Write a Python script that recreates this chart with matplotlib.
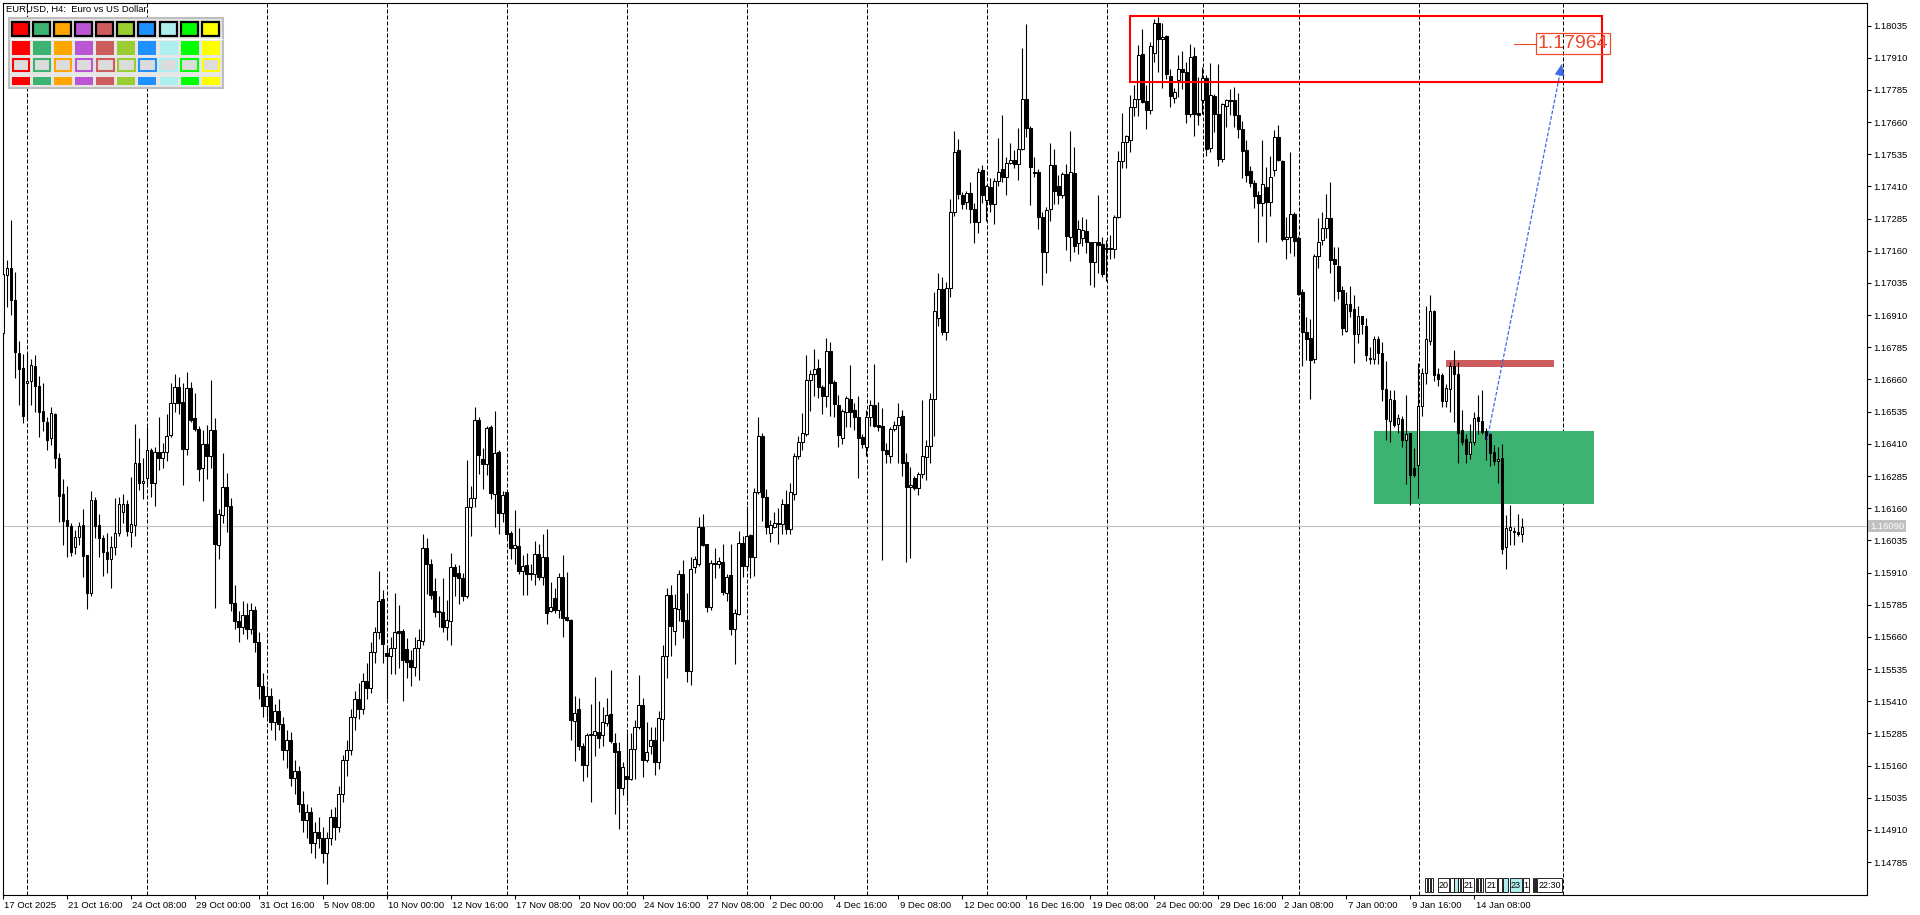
import matplotlib
matplotlib.use("Agg")
import matplotlib.pyplot as plt
from matplotlib.patches import Rectangle
import matplotlib.transforms as mtransforms
import numpy as np

plt.rcParams['font.family'] = ['Liberation Sans', 'DejaVu Sans']

# ---------------- data: EURUSD H4 candles (bar index 0 = 17 Oct 2025 00:00) ----------------
opens = [
 1.16840, 1.17066, 1.17092, 1.16969, 1.16762, 1.16704, 1.16645, 1.16656, 1.16713, 1.16635,
 1.16538, 1.16493, 1.16434, 1.16526, 1.16354, 1.16216, 1.16115, 1.16089, 1.16008, 1.16047,
 1.16095, 1.15979, 1.15832, 1.16192, 1.16095, 1.16043, 1.15991, 1.15962, 1.16008, 1.16063,
 1.16147, 1.16175, 1.16069, 1.16095, 1.16337, 1.16257, 1.16276, 1.16386, 1.16257, 1.16377,
 1.16354, 1.16380, 1.16445, 1.16568, 1.16630, 1.16572, 1.16389, 1.16626, 1.16510, 1.16467,
 1.16315, 1.16408, 1.16364, 1.16464, 1.16017, 1.16134, 1.16244, 1.16169, 1.15793, 1.15720,
 1.15700, 1.15745, 1.15690, 1.15765, 1.15640, 1.15470, 1.15390, 1.15430, 1.15330, 1.15370,
 1.15320, 1.15220, 1.15260, 1.15110, 1.15140, 1.15010, 1.14950, 1.14980, 1.14860, 1.14900,
 1.14880, 1.14820, 1.14880, 1.14960, 1.14920, 1.15050, 1.15180, 1.15220, 1.15350, 1.15420,
 1.15380, 1.15490, 1.15460, 1.15600, 1.15680, 1.15808, 1.15597, 1.15584, 1.15618, 1.15682,
 1.15682, 1.15611, 1.15569, 1.15544, 1.15615, 1.15644, 1.16005, 1.15944, 1.15837, 1.15761,
 1.15758, 1.15698, 1.15722, 1.15932, 1.15908, 1.15890, 1.15818, 1.16165, 1.16201, 1.16504,
 1.16351, 1.16333, 1.16475, 1.16215, 1.16380, 1.16141, 1.16222, 1.16062, 1.16005, 1.16012,
 1.15915, 1.15941, 1.15907, 1.15904, 1.15982, 1.15894, 1.15972, 1.15762, 1.15811, 1.15765,
 1.15894, 1.15737, 1.15727, 1.15334, 1.15379, 1.15237, 1.15162, 1.15277, 1.15277, 1.15291,
 1.15279, 1.15327, 1.15361, 1.15247, 1.15215, 1.15072, 1.15118, 1.15108, 1.15225, 1.15308,
 1.15394, 1.15182, 1.15237, 1.15261, 1.15172, 1.15341, 1.15584, 1.15822, 1.15684, 1.15769,
 1.15905, 1.15727, 1.15529, 1.15932, 1.15944, 1.16087, 1.16020, 1.15775, 1.15948, 1.15944,
 1.15951, 1.15831, 1.15901, 1.15691, 1.15748, 1.16025, 1.15937, 1.16054, 1.15972, 1.16222,
 1.16441, 1.16205, 1.16065, 1.16087, 1.16101, 1.16098, 1.16175, 1.16080, 1.16214, 1.16364,
 1.16419, 1.16448, 1.16658, 1.16680, 1.16704, 1.16630, 1.16594, 1.16771, 1.16649, 1.16561,
 1.16434, 1.16535, 1.16584, 1.16542, 1.16513, 1.16438, 1.16399, 1.16513, 1.16559, 1.16484,
 1.16480, 1.16386, 1.16363, 1.16467, 1.16484, 1.16519, 1.16338, 1.16241, 1.16276, 1.16237,
 1.16292, 1.16360, 1.16402, 1.16585, 1.16898, 1.17011, 1.16846, 1.17017, 1.17310, 1.17552,
 1.17377, 1.17348, 1.17384, 1.17321, 1.17273, 1.17474, 1.17358, 1.17407, 1.17341, 1.17433,
 1.17477, 1.17448, 1.17503, 1.17513, 1.17496, 1.17555, 1.17749, 1.17636, 1.17468, 1.17465,
 1.17293, 1.17157, 1.17321, 1.17494, 1.17410, 1.17377, 1.17459, 1.17215, 1.17461, 1.17189,
 1.17209, 1.17237, 1.17193, 1.17118, 1.17196, 1.17186, 1.17170, 1.17170, 1.17166, 1.17293,
 1.17507, 1.17582, 1.17591, 1.17720, 1.17749, 1.17924, 1.17744, 1.17707, 1.17930, 1.18044,
 1.17982, 1.17995, 1.17841, 1.17755, 1.17825, 1.17866, 1.17854, 1.17693, 1.17916, 1.17696,
 1.17746, 1.17832, 1.17560, 1.17762, 1.17693, 1.17517, 1.17723, 1.17746, 1.17746, 1.17686,
 1.17635, 1.17552, 1.17470, 1.17424, 1.17376, 1.17344, 1.17409, 1.17350, 1.17474, 1.17602,
 1.17510, 1.17206, 1.17214, 1.17304, 1.17210, 1.16999, 1.16846, 1.16822, 1.16738, 1.17138,
 1.17203, 1.17249, 1.17287, 1.17127, 1.17102, 1.17006, 1.16850, 1.16954, 1.16933, 1.16836,
 1.16905, 1.16868, 1.16745, 1.16739, 1.16817, 1.16764, 1.16624, 1.16500, 1.16580, 1.16486,
 1.16508, 1.16423, 1.16451, 1.16318, 1.16328, 1.16558, 1.16685, 1.16810, 1.16927, 1.16681,
 1.16678, 1.16577, 1.16624, 1.16714, 1.16682, 1.16462, 1.16429, 1.16372, 1.16418, 1.16515,
 1.16500, 1.16461, 1.16447, 1.16379, 1.16342, 1.16356, 1.16011, 1.16077, 1.16073, 1.16066, 1.16059]

highs = [
 1.17073, 1.17125, 1.17280, 1.17079, 1.16810, 1.16759, 1.16762, 1.16740, 1.16756, 1.16675,
 1.16646, 1.16516, 1.16555, 1.16529, 1.16374, 1.16272, 1.16247, 1.16102, 1.16076, 1.16108,
 1.16157, 1.15979, 1.16225, 1.16203, 1.16137, 1.16056, 1.16063, 1.16052, 1.16199, 1.16203,
 1.16216, 1.16192, 1.16283, 1.16487, 1.16432, 1.16354, 1.16475, 1.16393, 1.16397, 1.16516,
 1.16412, 1.16526, 1.16648, 1.16682, 1.16668, 1.16646, 1.16688, 1.16652, 1.16609, 1.16480,
 1.16464, 1.16484, 1.16658, 1.16510, 1.16157, 1.16376, 1.16296, 1.16199, 1.15862, 1.15760,
 1.15800, 1.15790, 1.15790, 1.15780, 1.15680, 1.15520, 1.15470, 1.15460, 1.15400, 1.15420,
 1.15350, 1.15300, 1.15290, 1.15180, 1.15160, 1.15060, 1.15010, 1.15000, 1.14940, 1.14960,
 1.14920, 1.14900, 1.14990, 1.15000, 1.15080, 1.15200, 1.15260, 1.15380, 1.15450, 1.15480,
 1.15520, 1.15560, 1.15640, 1.15700, 1.15914, 1.15841, 1.15629, 1.15658, 1.15832, 1.15784,
 1.15690, 1.15655, 1.15608, 1.15658, 1.15690, 1.16061, 1.16044, 1.15961, 1.15887, 1.15818,
 1.15887, 1.15805, 1.15984, 1.15944, 1.15941, 1.15908, 1.16347, 1.16247, 1.16555, 1.16513,
 1.16394, 1.16480, 1.16484, 1.16537, 1.16387, 1.16227, 1.16227, 1.16070, 1.16151, 1.16084,
 1.15980, 1.15984, 1.15944, 1.16032, 1.16022, 1.16061, 1.16080, 1.15875, 1.15851, 1.15908,
 1.15977, 1.15912, 1.15730, 1.15429, 1.15422, 1.15247, 1.15287, 1.15401, 1.15504, 1.15412,
 1.15387, 1.15422, 1.15532, 1.15287, 1.15251, 1.15172, 1.15287, 1.15287, 1.15337, 1.15512,
 1.15422, 1.15329, 1.15308, 1.15308, 1.15372, 1.15629, 1.15848, 1.15861, 1.15827, 1.15920,
 1.15958, 1.15832, 1.15972, 1.15975, 1.16127, 1.16137, 1.16022, 1.15958, 1.16004, 1.15970,
 1.16022, 1.15904, 1.16022, 1.15768, 1.16072, 1.16051, 1.16168, 1.16061, 1.16237, 1.16515,
 1.16451, 1.16233, 1.16115, 1.16144, 1.16161, 1.16195, 1.16231, 1.16259, 1.16376, 1.16441,
 1.16529, 1.16755, 1.16697, 1.16777, 1.16739, 1.16639, 1.16820, 1.16807, 1.16658, 1.16600,
 1.16546, 1.16597, 1.16717, 1.16568, 1.16594, 1.16447, 1.16542, 1.16581, 1.16721, 1.16574,
 1.16548, 1.16415, 1.16477, 1.16500, 1.16568, 1.16542, 1.16373, 1.16319, 1.16285, 1.16302,
 1.16581, 1.16425, 1.16607, 1.16998, 1.17073, 1.17060, 1.17037, 1.17360, 1.17626, 1.17593,
 1.17390, 1.17393, 1.17429, 1.17345, 1.17481, 1.17494, 1.17416, 1.17442, 1.17442, 1.17597,
 1.17688, 1.17526, 1.17578, 1.17552, 1.17636, 1.17947, 1.18042, 1.17643, 1.17524, 1.17477,
 1.17312, 1.17332, 1.17578, 1.17555, 1.17455, 1.17468, 1.17498, 1.17627, 1.17562, 1.17280,
 1.17290, 1.17283, 1.17196, 1.17196, 1.17377, 1.17215, 1.17202, 1.17222, 1.17299, 1.17546,
 1.17697, 1.17610, 1.17766, 1.17805, 1.17960, 1.18021, 1.17805, 1.17973, 1.18060, 1.18068,
 1.18044, 1.17999, 1.17868, 1.17794, 1.17920, 1.17938, 1.17894, 1.17964, 1.17952, 1.17837,
 1.17873, 1.17844, 1.17890, 1.17768, 1.17884, 1.17736, 1.17750, 1.17789, 1.17796, 1.17772,
 1.17664, 1.17592, 1.17491, 1.17434, 1.17393, 1.17592, 1.17484, 1.17530, 1.17628, 1.17647,
 1.17513, 1.17290, 1.17542, 1.17311, 1.17218, 1.17013, 1.16904, 1.16894, 1.17146, 1.17287,
 1.17311, 1.17380, 1.17426, 1.17174, 1.17174, 1.17023, 1.16999, 1.17023, 1.16990, 1.16944,
 1.16908, 1.16898, 1.16786, 1.16829, 1.16829, 1.16804, 1.16732, 1.16620, 1.16620, 1.16526,
 1.16519, 1.16601, 1.16454, 1.16394, 1.16725, 1.16706, 1.16947, 1.16987, 1.16930, 1.16706,
 1.16685, 1.16644, 1.16728, 1.16774, 1.16728, 1.16541, 1.16447, 1.16486, 1.16534, 1.16598,
 1.16620, 1.16472, 1.16454, 1.16404, 1.16397, 1.16408, 1.16135, 1.16174, 1.16087, 1.16138, 1.16120]

lows = [
 1.16830, 1.16943, 1.16911, 1.16665, 1.16561, 1.16490, 1.16503, 1.16559, 1.16535, 1.16438,
 1.16458, 1.16386, 1.16406, 1.16315, 1.16108, 1.16015, 1.15972, 1.15976, 1.15982, 1.16015,
 1.15894, 1.15767, 1.15819, 1.16043, 1.15972, 1.15898, 1.15907, 1.15849, 1.15978, 1.16052,
 1.16102, 1.16050, 1.16008, 1.16050, 1.16231, 1.16195, 1.16254, 1.16203, 1.16170, 1.16309,
 1.16318, 1.16345, 1.16438, 1.16532, 1.16526, 1.16250, 1.16367, 1.16494, 1.16458, 1.16267,
 1.16186, 1.16272, 1.16315, 1.15771, 1.15962, 1.16102, 1.16069, 1.15760, 1.15690, 1.15640,
 1.15670, 1.15650, 1.15670, 1.15600, 1.15420, 1.15350, 1.15350, 1.15300, 1.15260, 1.15300,
 1.15180, 1.15150, 1.15080, 1.15050, 1.14980, 1.14900, 1.14880, 1.14820, 1.14800, 1.14840,
 1.14780, 1.14700, 1.14850, 1.14870, 1.14900, 1.15020, 1.15120, 1.15200, 1.15300, 1.15340,
 1.15360, 1.15420, 1.15440, 1.15560, 1.15650, 1.15558, 1.15418, 1.15515, 1.15515, 1.15539,
 1.15411, 1.15501, 1.15468, 1.15508, 1.15494, 1.15627, 1.15827, 1.15808, 1.15737, 1.15698,
 1.15679, 1.15647, 1.15629, 1.15818, 1.15787, 1.15798, 1.15812, 1.16051, 1.16165, 1.16294,
 1.16233, 1.16290, 1.16194, 1.16087, 1.16058, 1.16108, 1.16044, 1.15961, 1.15944, 1.15904,
 1.15822, 1.15822, 1.15880, 1.15861, 1.15880, 1.15861, 1.15711, 1.15758, 1.15751, 1.15732,
 1.15658, 1.15722, 1.15261, 1.15179, 1.15222, 1.15101, 1.15115, 1.15018, 1.15196, 1.15229,
 1.15237, 1.15315, 1.15247, 1.14972, 1.14915, 1.15044, 1.15022, 1.15104, 1.15108, 1.15301,
 1.15115, 1.15175, 1.15204, 1.15122, 1.15146, 1.15254, 1.15501, 1.15584, 1.15629, 1.15722,
 1.15655, 1.15484, 1.15472, 1.15908, 1.15937, 1.16012, 1.15758, 1.15765, 1.15890, 1.15927,
 1.15822, 1.15801, 1.15669, 1.15555, 1.15744, 1.15894, 1.15922, 1.15887, 1.15898, 1.16215,
 1.16112, 1.16061, 1.16030, 1.16084, 1.16022, 1.16060, 1.16060, 1.16060, 1.16192, 1.16350,
 1.16386, 1.16441, 1.16538, 1.16594, 1.16587, 1.16526, 1.16555, 1.16518, 1.16516, 1.16399,
 1.16410, 1.16477, 1.16477, 1.16464, 1.16276, 1.16393, 1.16363, 1.16480, 1.16477, 1.16458,
 1.15960, 1.16337, 1.16337, 1.16458, 1.16334, 1.16285, 1.15949, 1.15966, 1.16231, 1.16211,
 1.16276, 1.16270, 1.16334, 1.16441, 1.16866, 1.16833, 1.16814, 1.16982, 1.17296, 1.17360,
 1.17321, 1.17323, 1.17267, 1.17189, 1.17231, 1.17345, 1.17277, 1.17312, 1.17263, 1.17410,
 1.17429, 1.17375, 1.17496, 1.17481, 1.17435, 1.17552, 1.17604, 1.17338, 1.17448, 1.17244,
 1.17026, 1.17073, 1.17274, 1.17341, 1.17341, 1.17364, 1.17163, 1.17122, 1.17157, 1.17148,
 1.17179, 1.17151, 1.17027, 1.17021, 1.17073, 1.17060, 1.17044, 1.17127, 1.17131, 1.17287,
 1.17481, 1.17483, 1.17542, 1.17682, 1.17682, 1.17736, 1.17632, 1.17692, 1.17895, 1.17856,
 1.17792, 1.17827, 1.17719, 1.17736, 1.17758, 1.17789, 1.17657, 1.17681, 1.17606, 1.17647,
 1.17690, 1.17527, 1.17542, 1.17621, 1.17491, 1.17506, 1.17642, 1.17686, 1.17642, 1.17599,
 1.17444, 1.17426, 1.17408, 1.17326, 1.17193, 1.17297, 1.17196, 1.17297, 1.17451, 1.17508,
 1.17200, 1.17128, 1.17153, 1.17138, 1.16990, 1.16714, 1.16735, 1.16584, 1.16724, 1.17095,
 1.17182, 1.17210, 1.17074, 1.16966, 1.16973, 1.16832, 1.16843, 1.16901, 1.16724, 1.16803,
 1.16836, 1.16731, 1.16721, 1.16721, 1.16721, 1.16577, 1.16426, 1.16418, 1.16476, 1.16454,
 1.16397, 1.16253, 1.16171, 1.16282, 1.16198, 1.16519, 1.16642, 1.16793, 1.16656, 1.16634,
 1.16555, 1.16552, 1.16534, 1.16495, 1.16336, 1.16404, 1.16336, 1.16351, 1.16404, 1.16447,
 1.16447, 1.16346, 1.16325, 1.16328, 1.16256, 1.15982, 1.15922, 1.16015, 1.16015, 1.16051, 1.16030]

closes = [
 1.17070, 1.17092, 1.16969, 1.16765, 1.16701, 1.16520, 1.16656, 1.16717, 1.16633, 1.16533,
 1.16497, 1.16423, 1.16529, 1.16354, 1.16209, 1.16112, 1.16089, 1.15991, 1.16047, 1.16091,
 1.15976, 1.15832, 1.16192, 1.16092, 1.16043, 1.15989, 1.15962, 1.16008, 1.16063, 1.16175,
 1.16175, 1.16073, 1.16098, 1.16337, 1.16257, 1.16266, 1.16386, 1.16257, 1.16377, 1.16354,
 1.16380, 1.16442, 1.16568, 1.16630, 1.16568, 1.16389, 1.16626, 1.16503, 1.16467, 1.16311,
 1.16408, 1.16364, 1.16464, 1.16020, 1.16138, 1.16244, 1.16169, 1.15793, 1.15720, 1.15700,
 1.15745, 1.15690, 1.15765, 1.15640, 1.15470, 1.15390, 1.15430, 1.15330, 1.15370, 1.15320,
 1.15220, 1.15260, 1.15110, 1.15140, 1.15010, 1.14950, 1.14980, 1.14860, 1.14900, 1.14880,
 1.14820, 1.14880, 1.14960, 1.14920, 1.15050, 1.15180, 1.15220, 1.15350, 1.15420, 1.15380,
 1.15490, 1.15460, 1.15600, 1.15680, 1.15801, 1.15632, 1.15584, 1.15618, 1.15679, 1.15675,
 1.15572, 1.15561, 1.15544, 1.15615, 1.15649, 1.16005, 1.15944, 1.15822, 1.15758, 1.15755,
 1.15698, 1.15727, 1.15932, 1.15898, 1.15890, 1.15818, 1.16165, 1.16198, 1.16504, 1.16365,
 1.16333, 1.16470, 1.16218, 1.16375, 1.16141, 1.16211, 1.16058, 1.16005, 1.16018, 1.15915,
 1.15937, 1.15904, 1.15904, 1.15982, 1.15894, 1.15972, 1.15754, 1.15777, 1.15765, 1.15894,
 1.15732, 1.15727, 1.15337, 1.15365, 1.15234, 1.15162, 1.15279, 1.15284, 1.15294, 1.15268,
 1.15329, 1.15358, 1.15254, 1.15212, 1.15072, 1.15155, 1.15108, 1.15225, 1.15308, 1.15394,
 1.15182, 1.15212, 1.15258, 1.15172, 1.15344, 1.15584, 1.15822, 1.15704, 1.15772, 1.15905,
 1.15722, 1.15529, 1.15922, 1.15961, 1.16087, 1.16015, 1.15775, 1.15947, 1.15944, 1.15955,
 1.15834, 1.15891, 1.15691, 1.15751, 1.16025, 1.15937, 1.16051, 1.15972, 1.16222, 1.16441,
 1.16205, 1.16087, 1.16094, 1.16101, 1.16098, 1.16175, 1.16080, 1.16224, 1.16364, 1.16419,
 1.16451, 1.16658, 1.16680, 1.16700, 1.16629, 1.16594, 1.16771, 1.16648, 1.16564, 1.16445,
 1.16538, 1.16587, 1.16535, 1.16513, 1.16434, 1.16408, 1.16513, 1.16559, 1.16480, 1.16477,
 1.16386, 1.16370, 1.16467, 1.16484, 1.16516, 1.16337, 1.16241, 1.16250, 1.16237, 1.16292,
 1.16364, 1.16402, 1.16585, 1.16926, 1.17011, 1.16846, 1.17017, 1.17310, 1.17542, 1.17380,
 1.17341, 1.17386, 1.17323, 1.17271, 1.17468, 1.17377, 1.17410, 1.17341, 1.17433, 1.17468,
 1.17448, 1.17500, 1.17513, 1.17496, 1.17555, 1.17749, 1.17636, 1.17485, 1.17464, 1.17290,
 1.17157, 1.17319, 1.17494, 1.17393, 1.17377, 1.17459, 1.17219, 1.17468, 1.17180, 1.17245,
 1.17241, 1.17193, 1.17116, 1.17193, 1.17183, 1.17069, 1.17166, 1.17166, 1.17293, 1.17507,
 1.17582, 1.17606, 1.17720, 1.17749, 1.17921, 1.17740, 1.17707, 1.17956, 1.18044, 1.17982,
 1.17990, 1.17846, 1.17761, 1.17776, 1.17866, 1.17854, 1.17693, 1.17912, 1.17693, 1.17686,
 1.17832, 1.17556, 1.17765, 1.17693, 1.17517, 1.17729, 1.17746, 1.17743, 1.17686, 1.17632,
 1.17549, 1.17455, 1.17424, 1.17373, 1.17344, 1.17419, 1.17350, 1.17445, 1.17602, 1.17513,
 1.17206, 1.17214, 1.17304, 1.17200, 1.16994, 1.16843, 1.16817, 1.16735, 1.17141, 1.17196,
 1.17249, 1.17287, 1.17124, 1.17107, 1.17002, 1.16862, 1.16954, 1.16927, 1.16836, 1.16908,
 1.16875, 1.16754, 1.16738, 1.16817, 1.16764, 1.16624, 1.16505, 1.16584, 1.16483, 1.16512,
 1.16423, 1.16447, 1.16289, 1.16289, 1.16558, 1.16685, 1.16817, 1.16927, 1.16678, 1.16660,
 1.16577, 1.16627, 1.16714, 1.16682, 1.16454, 1.16418, 1.16372, 1.16418, 1.16512, 1.16498,
 1.16457, 1.16428, 1.16375, 1.16342, 1.16351, 1.16003, 1.16083, 1.16087, 1.16066, 1.16059, 1.16087]

# x-axis time labels (every 16 H4 bars)
time_labels = ["17 Oct 2025", "21 Oct 16:00", "24 Oct 08:00", "29 Oct 00:00", "31 Oct 16:00",
               "5 Nov 08:00", "10 Nov 00:00", "12 Nov 16:00", "17 Nov 08:00", "20 Nov 00:00",
               "24 Nov 16:00", "27 Nov 08:00", "2 Dec 00:00", "4 Dec 16:00", "9 Dec 08:00",
               "12 Dec 00:00", "16 Dec 16:00", "19 Dec 08:00", "24 Dec 00:00", "29 Dec 16:00",
               "2 Jan 08:00", "7 Jan 00:00", "9 Jan 16:00", "14 Jan 08:00"]
label_bars = [0, 16, 32, 48, 64, 80, 96, 112, 128, 144, 160, 176, 192, 208, 224, 240,
              256, 272, 288, 304, 320, 336, 352, 368]

# price scale ticks
price_ticks = [1.14785, 1.14910, 1.15035, 1.15160, 1.15285, 1.15410, 1.15535, 1.15660,
               1.15785, 1.15910, 1.16035, 1.16160, 1.16285, 1.16410, 1.16535, 1.16660,
               1.16785, 1.16910, 1.17035, 1.17160, 1.17285, 1.17410, 1.17535, 1.17660,
               1.17785, 1.17910, 1.18035]

# weekly separators (bar index)
week_bars = [6, 36, 66, 96, 126, 156, 186, 216, 246, 276, 300, 324, 354, 390]

bid_price = 1.16090
target_price = 1.17964

# drawn objects (bar index / price)
red_box = (281.9, 400.0, 1.17817, 1.18074)
green_zone = (342.9, 397.9, 1.16177, 1.16460)
red_level = (361.0, 388.0, 1.16710, 1.16736)
arrow_start = (371.2, 1.16426)
arrow_end = (389.9, 1.17886)

panel_colors = ['#FF0000', '#3CB371', '#FFA500', '#BA55D3', '#CD5C5C',
                '#9ACD32', '#1E90FF', '#AFEEEE', '#00FF00', '#FFFF00']

# event markers on the time axis: (bar, width in bars, text, face)
events = [(355.7, 0.45, "", "white"), (356.4, 0.45, "", "white"), (357.1, 0.45, "", "white"),
          (358.9, 2.75, "20", "white"), (361.9, 0.9, "", "white"), (362.9, 0.9, "", "#AFEEEE"),
          (364.0, 0.45, "", "white"), (364.6, 0.45, "", "white"),
          (365.2, 2.75, "21", "white"), (368.3, 0.45, "", "white"), (369.0, 0.45, "", "white"),
          (369.7, 0.45, "", "white"), (370.7, 3.0, "21", "white"), (374.0, 0.9, "", "white"),
          (375.2, 1.3, "", "#AFEEEE"), (376.9, 3.0, "23", "#AFEEEE"), (380.1, 1.7, "1", "white"),
          (382.6, 0.35, "", "white"), (383.1, 0.35, "", "white"), (383.7, 6.3, "22:30", "white")]

# ---------------- figure ----------------
W, H = 1920, 915
fig = plt.figure(figsize=(W / 100, H / 100), dpi=100)
fig.patch.set_facecolor('white')
L_px, R_px, T_px, B_px = 2.7, 1867.0, 2.7, 895.0
ax = fig.add_axes([L_px / W, 1 - B_px / H, (R_px - L_px) / W, (B_px - T_px) / H])
ax.set_xlim(0.1, 466.2)
ax.set_ylim(1.14657, 1.18124)
ax.set_facecolor('white')

o = np.array(opens); h = np.array(highs); l = np.array(lows); c = np.array(closes)
h = np.maximum(h, np.maximum(o, c)); l = np.minimum(l, np.minimum(o, c))
x = np.arange(len(o))

# grid separators
for wb in week_bars:
    ax.axvline(wb + 0.15, color='black', lw=0.72, linestyle=(0, (4, 2)), zorder=1)

# bid line
ax.axhline(bid_price, color='#C0C0C0', lw=0.8, zorder=1.2)

# zones
ax.add_patch(Rectangle((green_zone[0], green_zone[2]), green_zone[1] - green_zone[0],
                       green_zone[3] - green_zone[2], facecolor='#3CB371', edgecolor='none', zorder=1.5))
ax.add_patch(Rectangle((red_level[0], red_level[2]), red_level[1] - red_level[0],
                       red_level[3] - red_level[2], facecolor='#CD5C5C', edgecolor='none', zorder=1.5))
ax.add_patch(Rectangle((red_box[0], red_box[2]), red_box[1] - red_box[0],
                       red_box[3] - red_box[2], facecolor='none', edgecolor='#FF0000', lw=1.5, zorder=4))

# candles
ax.vlines(x, l, h, color='black', lw=0.8, zorder=2.9)
bull = c >= o
body_h = c - o
body_h = np.where(np.abs(body_h) < 1e-6, 1e-6, body_h)
ax.bar(x, body_h, bottom=o, width=0.58, color=np.where(bull, 'white', 'black'),
       edgecolor='black', linewidth=0.75, zorder=3)

# arrow to target
ax.plot([arrow_start[0], arrow_end[0]], [arrow_start[1], arrow_end[1]], color='#4169E1',
        lw=0.9, linestyle=(0, (3, 1.5)), zorder=5)
ax.annotate('', xy=arrow_end,
            xytext=(arrow_end[0] - (arrow_end[0] - arrow_start[0]) * 0.03,
                    arrow_end[1] - (arrow_end[1] - arrow_start[1]) * 0.03),
            arrowprops=dict(arrowstyle='-|>,head_length=0.7,head_width=0.3', color='#4169E1',
                            lw=0.8, shrinkA=0, shrinkB=0, mutation_scale=10), zorder=5)

# target price label
tcol = '#EC4A2A'
ax.plot([377.9, 383.4], [target_price, target_price], color=tcol, lw=0.8, zorder=5)
ax.text(383.9, target_price, '1.17964', fontsize=14, color=tcol, va='center', ha='left', zorder=5,
        bbox=dict(boxstyle='square,pad=0.1', fc='none', ec=tcol, lw=0.9))

# axes styling
for sp in ax.spines.values():
    sp.set_color('black'); sp.set_linewidth(0.8)
ax.yaxis.tick_right()
ax.set_yticks(price_ticks)
ax.set_yticklabels([f"{p:.5f}" for p in price_ticks])
ax.tick_params(axis='y', direction='out', length=3, width=0.75, pad=1.5, labelsize=6.8,
               colors='black', left=False, right=True)
ax.set_xticks(label_bars)
ax.set_xticklabels(time_labels)
ax.tick_params(axis='x', direction='out', length=3, width=0.75, pad=1.5, labelsize=6.8, colors='black')
off = mtransforms.ScaledTranslation(1.5 / 100, 0, fig.dpi_scale_trans)
for lbl in ax.get_xticklabels():
    lbl.set_horizontalalignment('left')
    lbl.set_transform(lbl.get_transform() + off)

# bid price tag on the axis
tr = mtransforms.blended_transform_factory(ax.transAxes, ax.transData)
ax.text(1.0015, bid_price, '1.16090', transform=tr, fontsize=6.8, color='white', va='center',
        ha='left', zorder=6, clip_on=False,
        bbox=dict(boxstyle='square,pad=0.18', fc='#C0C0C0', ec='none'))

# event markers at the bottom
trx = mtransforms.blended_transform_factory(ax.transData, ax.transAxes)
for bx, bw, txt, fc in events:
    ax.add_patch(Rectangle((bx, 0.003), bw, 0.0155, transform=trx, facecolor=fc,
                           edgecolor='black', lw=0.6, zorder=6, clip_on=False))
    if txt:
        ax.text(bx + bw / 2, 0.0105, txt, transform=trx, fontsize=6.5, ha='center', va='center',
                color='black', zorder=7)

# ---------------- overlay: header + colour panel ----------------
ov = fig.add_axes([0, 0, 1, 1], facecolor='none')
ov.set_xlim(0, W); ov.set_ylim(H, 0); ov.axis('off')
ov.text(6, 9.5, 'EURUSD, H4:  Euro vs US Dollar', fontsize=6.8, va='center', ha='left', color='black')
ov.add_patch(Rectangle((8.5, 17.5), 214, 70, facecolor='#E6E6E6', edgecolor='#BEBEBE', lw=1.5))
ov.plot([9.5, 222], [38.5, 38.5], color='white', lw=1)
for k, col in enumerate(panel_colors):
    x0 = 11.8 + k * 21.1
    ov.add_patch(Rectangle((x0 + 1, 22.5), 17, 14, facecolor='#808080', edgecolor='none'))
    ov.add_patch(Rectangle((x0, 21.5), 17, 14, facecolor=col, edgecolor='black', lw=1.6))
    ov.add_patch(Rectangle((x0, 40.8), 18, 14.2, facecolor=col, edgecolor='none'))
    ov.add_patch(Rectangle((x0 + 0.8, 58.5), 16.5, 12.5, facecolor='#DCDCDC', edgecolor=col, lw=1.5))
    ov.add_patch(Rectangle((x0, 76.8), 18, 8.2, facecolor=col, edgecolor='none'))

fig.savefig('out.png', dpi=100)
